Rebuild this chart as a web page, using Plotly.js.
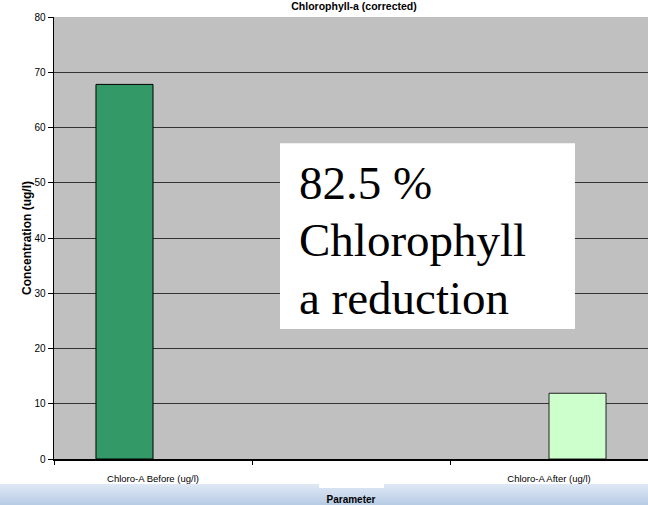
<!DOCTYPE html>
<html>
<head>
<meta charset="utf-8">
<script src="https://cdn.plot.ly/plotly-3.0.1.min.js"></script>
<style>html,body{margin:0;padding:0;background:#fff;}#chart{width:648px;height:505px;}</style>
</head>
<body>
<div id="chart"></div>
<script>
// ---- data ----
const categories = ["Chloro-A Before (ug/l)", " ", "Chloro-A After (ug/l)"];
const beforeValues = [67.8, null, null];
const afterValues = [null, null, 11.9];
const seriesNames = ["Chloro-A Before (ug/l)", "Chloro-A After (ug/l)"];
const yTickValues = [0, 10, 20, 30, 40, 50, 60, 70, 80];
const calloutLines = ["82.5 %", "Chlorophyll", "a reduction"];
const chartTitle = "Chlorophyll-a (corrected)";
const xTitle = "Parameter";
const yTitle = "Concentration (ug/l)";

// ---- layout helpers ----
const W = 648, H = 505;
const M = {l: 54, r: 0, t: 17, b: 46};
const plotW = W - M.l - M.r, plotH = H - M.t - M.b;
const px2x = px => (px - M.l) / plotW;
const py2y = py => (H - M.b - py) / plotH;

const traces = [
  {type: "bar", name: seriesNames[0], x: categories, y: beforeValues,
   marker: {color: "#339966", line: {color: "#000000", width: 1}}, hoverinfo: "x+y"},
  {type: "bar", name: seriesNames[1], x: categories, y: afterValues,
   marker: {color: "#CCFFCC", line: {color: "#222222", width: 1}}, hoverinfo: "x+y"}
];

const shapes = [];
// gradient band at bottom
const bandTop = 484, bandBot = 505;
const c0 = [0xDE, 0xE8, 0xF4], c1 = [0xB8, 0xCC, 0xE6];
for (let i = 0; i < bandBot - bandTop; i++) {
  const t = i / (bandBot - bandTop - 1);
  const c = c0.map((v, k) => Math.round(v + (c1[k] - v) * t));
  shapes.push({type: "rect", xref: "paper", yref: "paper", layer: "below",
    x0: px2x(0), x1: px2x(W), y0: py2y(bandTop + i), y1: py2y(bandTop + i + 1),
    line: {width: 0}, fillcolor: `rgb(${c[0]},${c[1]},${c[2]})`});
}
// white notch under middle category label
shapes.push({type: "rect", xref: "paper", yref: "paper", layer: "below",
  x0: px2x(319), x1: px2x(384), y0: py2y(484), y1: py2y(488),
  line: {width: 0}, fillcolor: "#ffffff"});
// white callout box
shapes.push({type: "rect", xref: "paper", yref: "paper", layer: "above",
  x0: px2x(280), x1: px2x(575), y0: py2y(329), y1: py2y(143.3),
  line: {width: 0}, fillcolor: "#ffffff"});

const lineMid = [183, 240, 298];
const annotations = calloutLines.map((t, i) => ({
  text: t, xref: "paper", yref: "paper", x: px2x(297), y: py2y(lineMid[i]),
  xanchor: "left", yanchor: "middle", showarrow: false, align: "left",
  font: {family: "Liberation Serif, Times New Roman, serif", size: 47, color: "#000"}
}));

const layout = {
  width: W, height: H,
  margin: M,
  paper_bgcolor: "#ffffff",
  plot_bgcolor: "#C0C0C0",
  showlegend: false,
  barmode: "group",
  bargap: 0.424,
  bargroupgap: 0,
  font: {family: "Arial, Liberation Sans, sans-serif", size: 10, color: "#000"},
  title: {text: "<b>" + chartTitle + "</b>", xref: "container", yref: "container",
    x: 354 / W, xanchor: "center", y: 1 - 6 / H, yanchor: "middle",
    font: {size: 10.5, color: "#000"}},
  xaxis: {
    type: "category", categoryorder: "array", categoryarray: categories,
    tickson: "boundaries", ticks: "outside", ticklen: 4, tickcolor: "#000", tickwidth: 1,
    ticklabelstandoff: 10,
    showline: true, linecolor: "#000", linewidth: 1.5,
    showgrid: false, zeroline: false,
    tickfont: {size: 9.5, color: "#000"},
    title: {text: "<b>" + xTitle + "</b>", standoff: 13, font: {size: 10, color: "#000"}}
  },
  yaxis: {
    range: [0, 80], tickvals: yTickValues, ticktext: yTickValues.map(String),
    ticks: "outside", ticklen: 5, tickcolor: "#000", tickwidth: 1,
    showline: true, linecolor: "#000", linewidth: 1.5,
    showgrid: true, gridcolor: "#333333", gridwidth: 1,
    zeroline: false,
    tickfont: {size: 10, color: "#000"},
    title: {text: "<b>" + yTitle + "</b>", standoff: 0, font: {size: 12, color: "#000"}}
  },
  shapes: shapes,
  annotations: annotations
};

Plotly.newPlot("chart", traces, layout, {displayModeBar: false, staticPlot: true});
</script>
</body>
</html>
